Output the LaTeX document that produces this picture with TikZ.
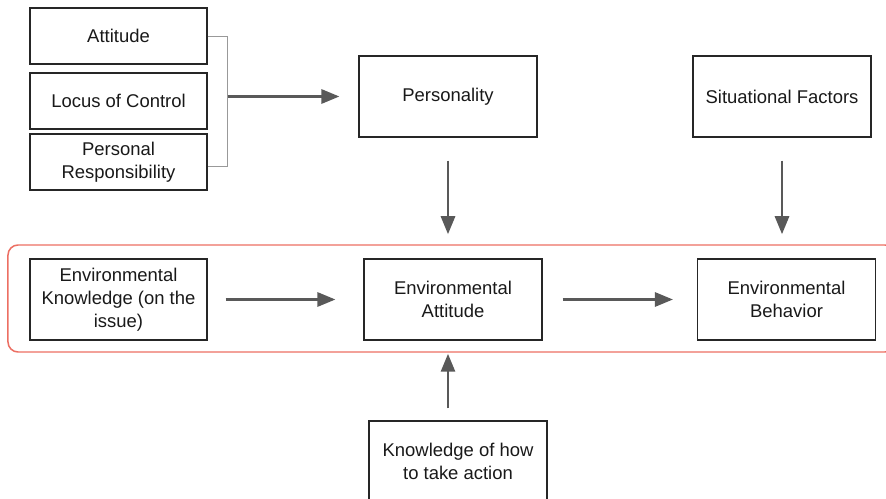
\documentclass[tikz,border=0pt]{standalone}
\usepackage{fontspec}
\setmainfont{Liberation Sans}
\usetikzlibrary{arrows.meta}

\definecolor{arrowgray}{HTML}{595959}
\definecolor{bandred}{HTML}{EC6F63}

\begin{document}
\begin{tikzpicture}[x=0.2mm,y=-0.2mm,
  box/.style={draw=black!85, line width=0.6pt, align=center, text=black!90,
    font=\fontsize{10.5pt}{13pt}\selectfont, inner sep=0pt},
  small/.style={box, minimum width=35.4mm, minimum height=11.2mm},
  big/.style={box, minimum width=35.6mm, minimum height=16.2mm},
  flow/.style={draw=arrowgray, line width=1.6pt, -{Triangle[length=3.6mm,width=2.8mm]}},
  bracket/.style={draw=black!40, line width=0.5pt},
  band/.style={draw=bandred, line width=0.85pt, rounded corners=2mm, inner sep=0pt}]
\useasboundingbox (0,0) rectangle (886,499);
\clip (0,0) rectangle (886,499);

% left column
\node[small] (attitude) at (118.5,36) {Attitude};
\node[small] (locus) at (118.5,101) {Locus of Control};
\node[small] (respons) at (118.5,162) {Personal\\Responsibility};

% top row
\node[big] (personality) at (448,96.5) {Personality};
\node[big] (situational) at (782,96.5) {Situational Factors};

% red band
\node[band, minimum width=177.4mm, minimum height=21.4mm] (band) at (451.5,298.5) {};
\node[big, minimum width=35.4mm] (envknow) at (118.5,299.5) {Environmental\\Knowledge (on the\\issue)};
\node[big] (envatt) at (453,299.5) {Environmental\\Attitude};
\node[big] (envbeh) at (786.5,299.5) {Environmental\\Behavior};

% bottom
\node[big] (howto) at (458,461.5) {Knowledge of how\\to take action};

% connectors
\draw[bracket] (attitude.east) -- ++(20,0) coordinate (b1) |- ([yshift=-0.8mm]respons.east);
\draw[flow] (b1 |- personality) -- (personality.west) [shorten >=3.8mm];
\draw[flow, shorten <=4.6mm, shorten >=2mm] (personality.south) -- (personality.south |- band.north);
\draw[flow, shorten <=4.6mm, shorten >=2mm] (situational.south) -- (situational.south |- band.north);
\draw[flow, shorten <=3.6mm, shorten >=5.6mm] (envknow.east) -- (envknow.east -| envatt.west);
\draw[flow, shorten <=4mm, shorten >=4.8mm] (envatt.east) -- (envatt.east -| envbeh.west);
\draw[flow, shorten <=2.4mm, shorten >=0.2mm] (howto.north -| personality) -- (personality |- band.south);
\end{tikzpicture}
\end{document}
